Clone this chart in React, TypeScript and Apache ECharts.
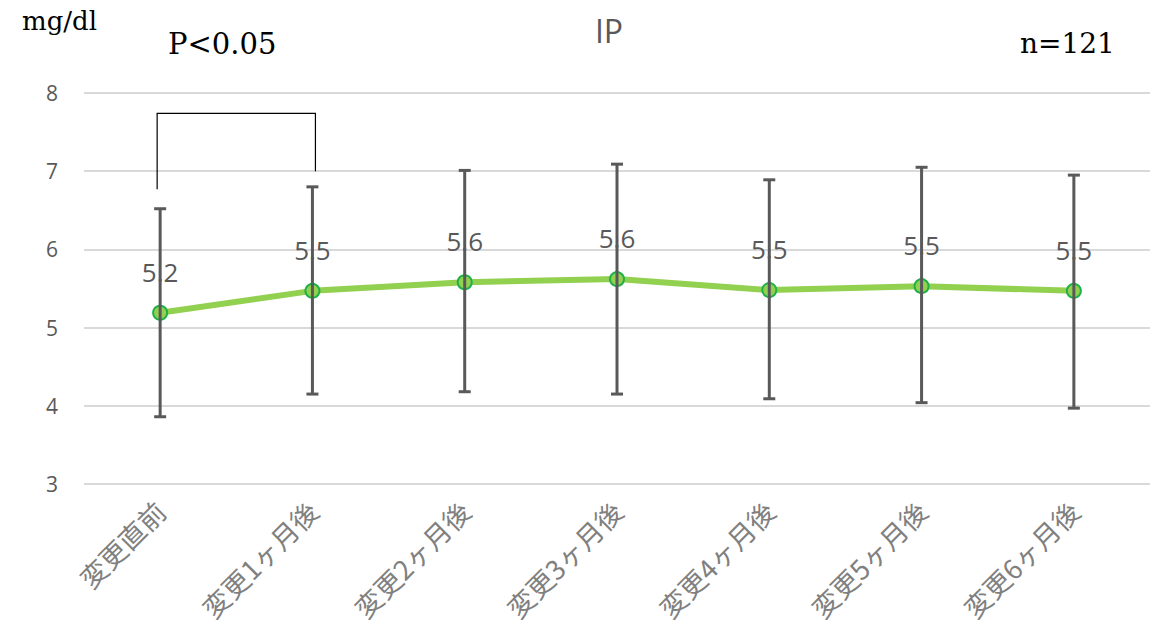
import React, { useEffect, useRef } from "react";
import * as echarts from "echarts";

const categories = ["変更直前", "変更1ヶ月後", "変更2ヶ月後", "変更3ヶ月後", "変更4ヶ月後", "変更5ヶ月後", "変更6ヶ月後"];
const means = [5.19, 5.47, 5.58, 5.62, 5.48, 5.53, 5.47];
const upper = [6.52, 6.8, 7.01, 7.09, 6.89, 7.05, 6.95];
const lower = [3.86, 4.15, 4.18, 4.15, 4.09, 4.04, 3.97];
// significance bracket between 変更直前 and 変更1ヶ月後
const bracketX = [0, 0, 1, 1];
const bracketY = [6.77, 7.74, 7.74, 7.0];

export default function App() {
  const ref = useRef<HTMLDivElement>(null);

  useEffect(() => {
    if (!ref.current) return;
    const chart = echarts.init(ref.current, null, { renderer: "svg" });
    const gray = "#595959";
    const serif = "'DejaVu Serif', 'Liberation Serif', serif";
    chart.setOption({
      animation: false,
      backgroundColor: "#ffffff",
      title: {
        text: "IP",
        left: 604,
        textAlign: "center",
        top: 9,
        textStyle: { color: gray, fontSize: 32, fontWeight: "normal", fontFamily: "Open Sans, sans-serif" },
      },
      graphic: [
        {
          type: "text",
          left: 22,
          top: 8,
          style: { text: "mg/dl", font: `26px ${serif}`, fill: "#000" },
        },
        {
          type: "text",
          left: 168,
          top: 29,
          style: { text: "P<0.05", font: `29px ${serif}`, fill: "#000" },
        },
        {
          type: "text",
          left: 1020,
          top: 29,
          style: { text: "n=121", font: `28px ${serif}`, fill: "#000" },
        },
      ],
      grid: { left: 84, right: 15, top: 93, bottom: 159 },
      xAxis: {
        type: "category",
        data: categories,
        boundaryGap: true,
        axisLine: { show: false },
        axisTick: { show: false },
        axisLabel: {
          rotate: 45,
          margin: 22,
          color: "#808080",
          fontSize: 27,
          fontFamily: "'Noto Sans CJK JP', sans-serif",
        },
      },
      yAxis: {
        type: "value",
        min: 3,
        max: 8,
        interval: 1,
        axisLine: { show: false },
        axisTick: { show: false },
        axisLabel: { color: gray, fontSize: 21, margin: 26, fontFamily: "Open Sans, sans-serif" },
        splitLine: { lineStyle: { color: "#d9d9d9", width: 2 } },
      },
      series: [
        {
          type: "line",
          data: means,
          z: 2,
          lineStyle: { color: "#92d050", width: 6 },
          symbol: "circle",
          symbolSize: 14,
          itemStyle: { color: "#92d050", borderColor: "#1fb04a", borderWidth: 2 },
          label: {
            show: true,
            position: "top",
            distance: 20,
            color: gray,
            fontSize: 26,
            fontFamily: "Open Sans, sans-serif",
            formatter: (p: any) => Number(p.value).toFixed(1),
          },
        },
        {
          type: "custom",
          z: 3,
          data: categories.map((_, i) => [i, lower[i], upper[i]]),
          renderItem: (params: any, api: any) => {
            const x = api.value(0);
            const lo = api.coord([x, api.value(1)]);
            const hi = api.coord([x, api.value(2)]);
            const cap = 6;
            const style = { stroke: gray, lineWidth: 3 };
            return {
              type: "group",
              children: [
                { type: "line", shape: { x1: lo[0], y1: lo[1], x2: hi[0], y2: hi[1] }, style },
                { type: "line", shape: { x1: hi[0] - cap, y1: hi[1], x2: hi[0] + cap, y2: hi[1] }, style },
                { type: "line", shape: { x1: lo[0] - cap, y1: lo[1], x2: lo[0] + cap, y2: lo[1] }, style },
              ],
            };
          },
        },
        {
          type: "custom",
          z: 4,
          data: [0],
          renderItem: (params: any, api: any) => {
            const pts = bracketX.map((x, i) => {
              const p = api.coord([x, bracketY[i]]);
              return [p[0] + (x === 0 ? -3 : 3), p[1]];
            });
            return {
              type: "polyline",
              shape: { points: pts },
              style: { stroke: "#000", lineWidth: 1.2, fill: "none" },
            };
          },
        },
      ],
    });
    return () => chart.dispose();
  }, []);

  return <div ref={ref} style={{ width: 1165, height: 643, margin: -8 }} />;
}
